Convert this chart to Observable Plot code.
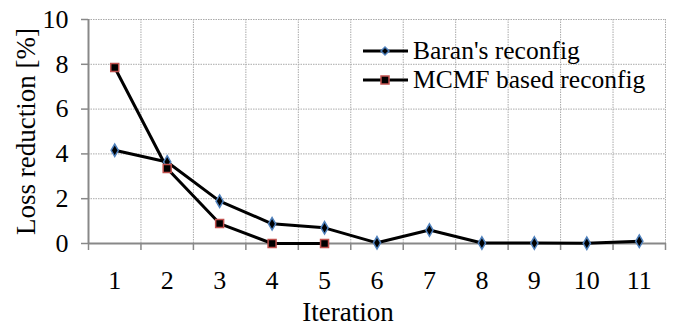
<!DOCTYPE html>
<html><head><meta charset="utf-8">
<script src="https://cdn.jsdelivr.net/npm/d3@7"></script>
<script src="https://cdn.jsdelivr.net/npm/@observablehq/plot@0.6"></script>
<style>
body{margin:0;background:#fff;}
#wrap{position:relative;width:675px;height:325px;}
#legend{position:absolute;left:362px;top:36px;font-family:'Liberation Serif',serif;font-size:25.5px;line-height:29px;color:#000;}
#legend div{display:flex;align-items:center;height:29px;white-space:nowrap;}
</style></head><body>
<div id="wrap"><div id="chart"></div>
<div id="legend"></div></div>
<script>
const iterations = [1,2,3,4,5,6,7,8,9,10,11];
const baran = [4.16,3.64,1.89,0.88,0.70,0.03,0.60,0.02,0.02,0.01,0.10];
const mcmfIter = [1,2,3,4,5];
const mcmf = [7.86,3.35,0.89,0.0,0.0];
const yTicks = [0,2,4,6,8,10];
const seriesNames = ["Baran's reconfig","MCMF based reconfig"];

const baranData = iterations.map((x,i)=>({x, y: baran[i]}));
const mcmfData = mcmfIter.map((x,i)=>({x, y: mcmf[i]}));
const bounds = d3.range(0.5, 11.6, 1);
const ff = "Liberation Serif";

const chart = Plot.plot({
  width: 675, height: 325,
  marginLeft: 88, marginRight: 10, marginTop: 19, marginBottom: 82,
  style: {fontFamily: ff, fontSize: "26px", color: "#000", background: "#fff"},
  x: {domain: [0.5, 11.5]},
  y: {domain: [0, 10]},
  marks: [
    Plot.gridX(bounds, {stroke: "#aaa", strokeOpacity: 1, strokeDasharray: "1.5,1"}),
    Plot.gridY(yTicks, {stroke: "#aaa", strokeOpacity: 1, strokeDasharray: "1.5,1"}),
    Plot.axisX(bounds, {tickSize: 7, text: null, label: null, stroke: "#888", strokeWidth: 1.5}),
    Plot.axisX(iterations, {tickSize: 0, tickPadding: 27, fontFamily: ff, fontSize: 26, label: null}),
    Plot.axisY(yTicks, {tickSize: 7, tickPadding: 13, stroke: "#888", strokeWidth: 1.5, fontFamily: ff, fontSize: 26, label: null}),
    Plot.ruleX([0.5], {stroke: "#888", strokeWidth: 2}),
    Plot.ruleY([0], {stroke: "#888", strokeWidth: 2}),
    Plot.text(["Iteration"], {frameAnchor: "bottom", lineAnchor: "bottom", dx: -29, dy: 77, fontFamily: ff, fontSize: 27}),
    Plot.text(["Loss reduction [%]"], {frameAnchor: "left", textAnchor: "middle", dx: -62, rotate: -90, fontFamily: ff, fontSize: 27}),
    Plot.line(baranData, {x: "x", y: "y", stroke: "#000", strokeWidth: 3}),
    Plot.line(mcmfData, {x: "x", y: "y", stroke: "#000", strokeWidth: 3}),
    Plot.dot(baranData, {x: "x", y: "y", symbol: "diamond", r: 3.8, fill: "#000", stroke: "#4f81bd", strokeWidth: 1.5}),
    Plot.dot(mcmfData, {x: "x", y: "y", symbol: "square", r: 4.5, fill: "#000", stroke: "#c0504d", strokeWidth: 1.5})
  ]
});
document.getElementById("chart").appendChild(chart);

const leg = document.getElementById("legend");
const sym = [
  '<path d="M23,-4 L27,0 L23,4 L19,0 Z" fill="#000" stroke="#4f81bd" stroke-width="1.5"/>',
  '<rect x="19" y="-4" width="8" height="8" fill="#000" stroke="#c0504d" stroke-width="1.5"/>'
];
seriesNames.forEach((n,i)=>{
  const d = document.createElement("div");
  d.innerHTML = `<svg width="48" height="14" viewBox="0 -7 48 14" style="margin-right:3px"><line x1="1" x2="46" y1="0" y2="0" stroke="#000" stroke-width="3"/>${sym[i]}</svg><span>${n}</span>`;
  leg.appendChild(d);
});
</script></body></html>
